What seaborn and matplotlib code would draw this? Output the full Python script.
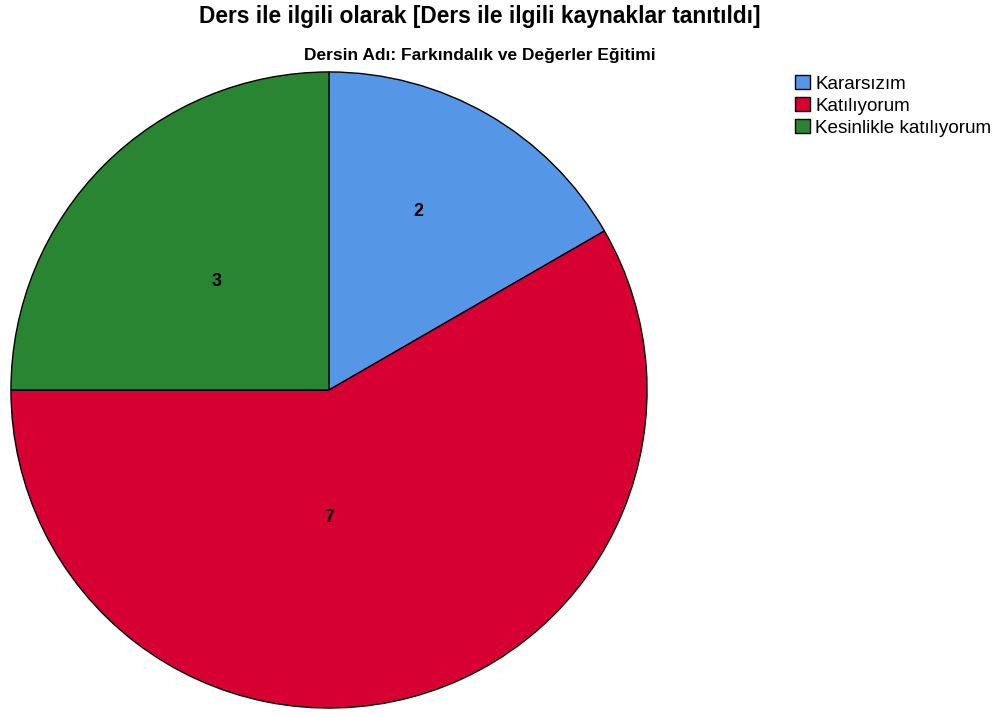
import matplotlib
matplotlib.use('Agg')
import matplotlib.pyplot as plt
import seaborn as sns

sns.set_theme(style='white')
plt.rcParams['font.family'] = ['Liberation Sans', 'DejaVu Sans']
plt.rcParams['text.color'] = 'black'

kategoriler = ['Kararsızım', 'Katılıyorum', 'Kesinlikle katılıyorum']
sayilar = [2, 7, 3]
renkler = ['#5596E6', '#D70033', '#2A8532']
# etiket konumlari (pasta icinde, merkeze gore)
etiket_konum = [(0.28, 0.56), (0.0, -0.40), (-0.354, 0.342)]

fig = plt.figure(figsize=(10.06, 7.15), dpi=100)
ax = fig.add_axes([10 / 1006, 6 / 715, 638 / 1006, 638 / 715])

wedges, _ = ax.pie(sayilar, colors=renkler, startangle=90, counterclock=False,
                   radius=1, wedgeprops=dict(edgecolor='black', linewidth=1))
for (x, y), v in zip(etiket_konum, sayilar):
    ax.text(x, y, str(v), ha='center', va='center', fontsize=13, fontweight='bold', color='black')
ax.set_xlim(-1.003, 1.003)
ax.set_ylim(-1.003, 1.003)
ax.set_aspect('equal')

fig.text(0.477, 0.977, 'Ders ile ilgili olarak [Ders ile ilgili kaynaklar tanıtıldı]',
         ha='center', va='center', fontsize=16.4, fontweight='bold', color='black')
fig.text(0.477, 0.922, 'Dersin Adı: Farkındalık ve Değerler Eğitimi',
         ha='center', va='center', fontsize=12.5, fontweight='bold', color='black')

leg = fig.legend(wedges, kategoriler, loc='upper left', bbox_to_anchor=(795 / 1006, 1 - 75 / 715),
                 frameon=False, fontsize=13.6, handlelength=0.8, handleheight=0.8,
                 handletextpad=0.27, labelspacing=0.22, borderaxespad=0, borderpad=0)
for h in leg.legend_handles:
    h.set_edgecolor('black')
    h.set_linewidth(1)

fig.savefig('out.png', dpi=100)
